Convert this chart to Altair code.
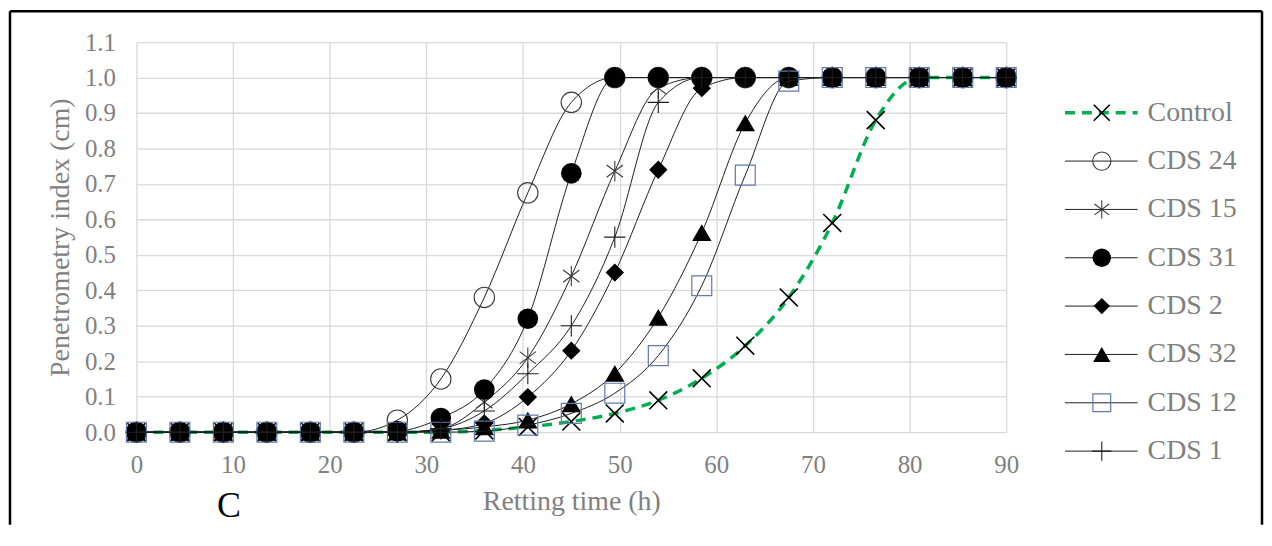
import altair as alt
import pandas as pd

time_h = [0, 4.5, 9, 13.5, 18, 22.5, 27, 31.5, 36, 40.5, 45, 49.5, 54, 58.5, 63, 67.5, 72, 76.5, 81, 85.5, 90]
series_names = ["Control", "CDS 24", "CDS 15", "CDS 31", "CDS 2", "CDS 32", "CDS 12", "CDS 1"]

control = [0, 0, 0, 0, 0, 0, 0, 0, 0.005, 0.015, 0.03, 0.053, 0.09, 0.152, 0.244, 0.38, 0.59, 0.88, 1.0, 1.0, 1.0]
cds24 = [0, 0, 0, 0, 0, 0, 0.034, 0.15, 0.38, 0.675, 0.93, 1.0, 1.0, 1.0, 1.0, 1.0, 1.0, 1.0, 1.0, 1.0, 1.0]
cds15 = [0, 0, 0, 0, 0, 0, 0, 0.01, 0.085, 0.21, 0.44, 0.736, 0.97, 1.0, 1.0, 1.0, 1.0, 1.0, 1.0, 1.0, 1.0]
cds31 = [0, 0, 0, 0, 0, 0, 0.003, 0.04, 0.12, 0.32, 0.73, 1.0, 1.0, 1.0, 1.0, 1.0, 1.0, 1.0, 1.0, 1.0, 1.0]
cds2 = [0, 0, 0, 0, 0, 0, 0, 0.005, 0.025, 0.099, 0.23, 0.45, 0.74, 0.97, 1.0, 1.0, 1.0, 1.0, 1.0, 1.0, 1.0]
cds32 = [0, 0, 0, 0, 0, 0, 0, 0.005, 0.015, 0.034, 0.08, 0.166, 0.324, 0.563, 0.872, 1.0, 1.0, 1.0, 1.0, 1.0, 1.0]
cds12 = [0, 0, 0, 0, 0, 0, 0, 0, 0.003, 0.02, 0.053, 0.11, 0.216, 0.413, 0.725, 0.99, 1.0, 1.0, 1.0, 1.0, 1.0]
cds1 = [0, 0, 0, 0, 0, 0, 0, 0.01, 0.06, 0.165, 0.30, 0.55, 0.93, 1.0, 1.0, 1.0, 1.0, 1.0, 1.0, 1.0, 1.0]

x_ticks = [0, 10, 20, 30, 40, 50, 60, 70, 80, 90]
y_ticks = [0.0, 0.1, 0.2, 0.3, 0.4, 0.5, 0.6, 0.7, 0.8, 0.9, 1.0, 1.1]

values = {
    "Control": control, "CDS 24": cds24, "CDS 15": cds15, "CDS 31": cds31,
    "CDS 2": cds2, "CDS 32": cds32, "CDS 12": cds12, "CDS 1": cds1,
}

rows = []
for name in series_names:
    for t, v in zip(time_h, values[name]):
        rows.append({"series": name, "time": t, "index": v})
df = pd.DataFrame(rows)
legend_df = pd.DataFrame({"series": series_names, "row": list(range(len(series_names)))})
one_df = pd.DataFrame({"k": [0]})

# ---- styles (kept apart from the data) ----
X_PATH = "M-1,-1L1,1M-1,1L1,-1"
STAR_PATH = "M0,-1L0,1M-0.8,-0.6L0.8,0.6M-0.8,0.6L0.8,-0.6"
PLUS_PATH = "M-1,0L1,0M0,-1L0,1"
style = {
    "Control": dict(lc="#00B050", lw=3.5, dash=[10, 7], shape=X_PATH, size=324, filled=False, mc="#000000", msw=1.6),
    "CDS 24": dict(lc="#1f1f1f", lw=1, dash=None, shape="circle", size=420, filled=False, mc="#3a3a3a", msw=1.1),
    "CDS 15": dict(lc="#1f1f1f", lw=1, dash=None, shape=STAR_PATH, size=420, filled=False, mc="#3a3a3a", msw=1.1),
    "CDS 31": dict(lc="#1f1f1f", lw=1, dash=None, shape="circle", size=430, filled=True, mc="#000000", msw=0),
    "CDS 2": dict(lc="#1f1f1f", lw=1, dash=None, shape="diamond", size=340, filled=True, mc="#000000", msw=0),
    "CDS 32": dict(lc="#1f1f1f", lw=1, dash=None, shape="triangle-up", size=380, filled=True, mc="#000000", msw=0),
    "CDS 12": dict(lc="#1f1f1f", lw=1, dash=None, shape="square", size=400, filled=False, mc="#5F7AAB", msw=1.2),
    "CDS 1": dict(lc="#1f1f1f", lw=1, dash=None, shape=PLUS_PATH, size=460, filled=False, mc="#1f1f1f", msw=1.1),
}

FONT = "Liberation Serif"
GRAY = "#808080"
W, H = 874, 392

x_enc = alt.X("time:Q", scale=alt.Scale(domain=[0, 90], nice=False, zero=False),
              axis=alt.Axis(values=x_ticks, title="Retting time (h)", grid=True, gridColor="#d9d9d9",
                            gridWidth=1.3, domain=False, ticks=False, labelFlush=False, labelFont=FONT,
                            labelFontSize=25, labelColor=GRAY, labelPadding=20, titleFont=FONT,
                            titleFontSize=28, titleFontWeight="normal", titleColor=GRAY, titlePadding=11))
y_enc = alt.Y("index:Q", scale=alt.Scale(domain=[0, 1.1], nice=False),
              axis=alt.Axis(values=y_ticks, format=".1f", title="Penetrometry index (cm)", grid=True,
                            gridColor="#d9d9d9", gridWidth=1.3, domain=False, ticks=False, labelFlush=False,
                            labelFont=FONT, labelFontSize=25, labelColor=GRAY, labelPadding=21,
                            titleFont=FONT, titleFontSize=28, titleFontWeight="normal", titleColor=GRAY,
                            titlePadding=10))

main_layers = []
for name in series_names:
    s = style[name]
    line_kw = dict(color=s["lc"], strokeWidth=s["lw"], interpolate="monotone")
    if s["dash"]:
        line_kw["strokeDash"] = s["dash"]
    line = alt.Chart(df).transform_filter(alt.datum.series == name).mark_line(**line_kw).encode(x=x_enc, y=y_enc)
    pt_kw = dict(shape=s["shape"], size=s["size"], filled=s["filled"], color=s["mc"], opacity=1)
    if not s["filled"]:
        pt_kw["strokeWidth"] = s["msw"]
    pts = alt.Chart(df).transform_filter(alt.datum.series == name).mark_point(**pt_kw).encode(x=x_enc, y=y_enc)
    main_layers += [line, pts]
main = alt.layer(*main_layers)

# ---- legend drawn beside the plot ----
leg_y = alt.Y("row:Q", scale=alt.Scale(domain=[0, len(series_names) - 1], range=[71, 411], nice=False,
                                       zero=False), axis=None)
leg_layers = []
for name in series_names:
    s = style[name]
    rk = dict(color=s["lc"], strokeWidth=s["lw"])
    if s["dash"]:
        rk["strokeDash"] = s["dash"]
    rule = alt.Chart(legend_df).transform_filter(alt.datum.series == name).mark_rule(**rk).encode(
        x=alt.value(933), x2=alt.value(1006), y=leg_y)
    pk = dict(shape=s["shape"], size=s["size"] * 0.8, filled=s["filled"], color=s["mc"], opacity=1)
    if not s["filled"]:
        pk["strokeWidth"] = s["msw"]
    sym = alt.Chart(legend_df).transform_filter(alt.datum.series == name).mark_point(**pk).encode(
        x=alt.value(970), y=leg_y)
    leg_layers += [rule, sym]
leg_text = alt.Chart(legend_df).mark_text(align="left", baseline="middle", font=FONT, fontSize=28,
                                          color=GRAY).encode(x=alt.value(1016), y=leg_y, text="series:N")
legend = alt.layer(*leg_layers, leg_text)

# ---- frame and panel letter ----
frame_left = alt.Chart(one_df).mark_rule(color="black", strokeWidth=2.5).encode(
    x=alt.value(-127), y=alt.value(-31), y2=alt.value(485))
frame_top = alt.Chart(one_df).mark_rule(color="black", strokeWidth=2.5).encode(
    x=alt.value(-127), x2=alt.value(1131), y=alt.value(-31))
frame_right = alt.Chart(one_df).mark_rule(color="black", strokeWidth=2.5).encode(
    x=alt.value(1131), y=alt.value(-31), y2=alt.value(485))
panel_c = alt.Chart(one_df).mark_text(font=FONT, fontSize=36, color="black", align="center",
                                      baseline="middle").encode(x=alt.value(93), y=alt.value(466),
                                                                text=alt.value("C"))

chart = alt.layer(main, legend, frame_left, frame_top, frame_right, panel_c).resolve_scale(
    y="independent"
).properties(width=W, height=H, padding=0, background="white").configure_view(strokeWidth=0)

chart.save("out.html", embed_options={"renderer": "svg", "actions": False})
